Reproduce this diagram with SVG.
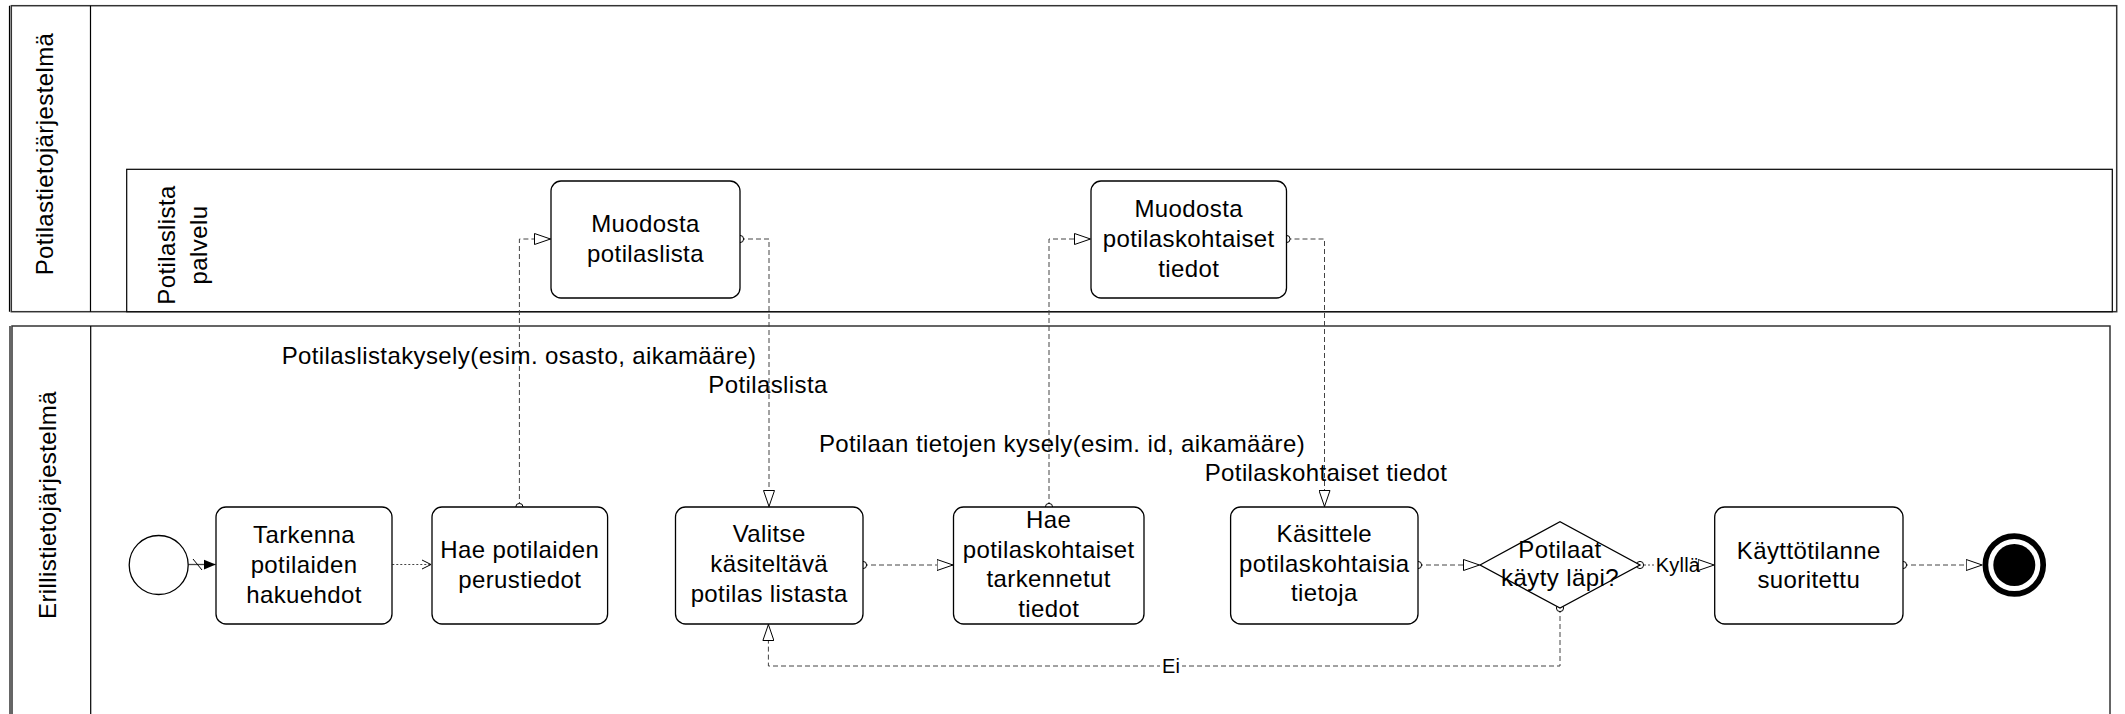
<svg xmlns="http://www.w3.org/2000/svg" width="2125" height="714" viewBox="0 0 2125 714">
<style>
  text { font-family: "Liberation Sans", Arial, sans-serif; font-size: 24px; letter-spacing: 0.4px; fill: #000; }
  .c { text-anchor: middle; }
  .small { font-size: 20px; letter-spacing: 0.2px; }
  .pool { fill: #fff; stroke: #333; stroke-width: 1.5; }
  .line { stroke: #000; stroke-width: 1.2; fill: none; }
  .task { fill: #fff; stroke: #000; stroke-width: 1.3; }
  .flow { fill: none; stroke: #444; stroke-width: 1; stroke-dasharray: 5 3; }
  .dotted { fill: none; stroke: #444; stroke-width: 1; stroke-dasharray: 2 2; }
  .solid { fill: none; stroke: #444; stroke-width: 1.3; }
  .origin { fill: #fff; stroke: #000; stroke-width: 1; }
</style>
<defs>
  <marker id="tri" viewBox="0 0 17 12" refX="17" refY="6" markerWidth="17" markerHeight="12" markerUnits="userSpaceOnUse" orient="auto">
    <path d="M0.5,0.5 L16.5,6 L0.5,11.5 Z" fill="#fff" stroke="#000" stroke-width="1"/>
  </marker>
  <marker id="filled" viewBox="0 0 12 12" refX="12" refY="6" markerWidth="12" markerHeight="12" markerUnits="userSpaceOnUse" orient="auto">
    <path d="M0,1 L12,6 L0,11 Z" fill="#000"/>
  </marker>
  <marker id="vee" viewBox="0 0 12 12" refX="11" refY="6" markerWidth="12" markerHeight="12" markerUnits="userSpaceOnUse" orient="auto">
    <path d="M2,1.5 L11,6 L2,10.5" fill="none" stroke="#000" stroke-width="1"/>
  </marker>
</defs>

<!-- Pools and lanes -->
<g id="pool-potilastietojarjestelma">
  <rect class="pool" x="11.3" y="5.7" width="2105.4" height="306"/>
  <line class="line" x1="9.5" y1="5.7" x2="9.5" y2="311.7"/>
  <line class="line" x1="90.5" y1="5.7" x2="90.5" y2="311.7"/>
  <text transform="translate(53,154) rotate(-90)" class="c">Potilastietojärjestelmä</text>
</g>
<g id="lane-potilaslista-palvelu">
  <rect x="126.7" y="169.3" width="1985.6" height="142.4" fill="#fff" stroke="#000" stroke-width="1.2"/>
  <text transform="translate(175,245) rotate(-90)" class="c">Potilaslista</text>
  <text transform="translate(207,245) rotate(-90)" class="c">palvelu</text>
</g>
<g id="pool-erillistietojarjestelma">
  <rect class="pool" x="12" y="326" width="2098" height="420"/>
  <line class="line" x1="10" y1="326" x2="10" y2="714"/>
  <line class="line" x1="90.7" y1="326" x2="90.7" y2="714"/>
  <text transform="translate(56,505) rotate(-90)" class="c">Erillistietojärjestelmä</text>
</g>

<!-- Connectors -->
<g id="connectors">
  <path class="solid" d="M188.3,564.5 H215.7" marker-end="url(#filled)"/>
  <line x1="193" y1="559" x2="202" y2="570" stroke="#000" stroke-width="1"/>
  <path class="dotted" d="M392.3,564.5 H431" marker-end="url(#vee)"/>
  <path class="flow" d="M519.4,507 V239 H551" marker-end="url(#tri)"/>
  <path class="flow" d="M740,239 H769 V507" marker-end="url(#tri)"/>
  <path class="flow" d="M863,565 H953.5" marker-end="url(#tri)"/>
  <path class="flow" d="M1049,507 V239 H1091" marker-end="url(#tri)"/>
  <path class="flow" d="M1286.5,239 H1324.5 V507" marker-end="url(#tri)"/>
  <path class="flow" d="M1418,565 H1480" marker-end="url(#tri)"/>
  <path class="dotted" d="M1640,565 H1656"/>
  <path class="flow" d="M1700,565 H1714.7" marker-end="url(#tri)"/>
  <path class="flow" d="M1903,565 H1982.7" marker-end="url(#tri)"/>
  <path class="flow" d="M1560,608 V666 H768.4 V624" marker-end="url(#tri)"/>
  <!-- source circles -->
  <circle class="origin" cx="519.4" cy="507" r="3.6"/>
  <circle class="origin" cx="740" cy="239" r="3.6"/>
  <circle class="origin" cx="863" cy="565" r="3.6"/>
  <circle class="origin" cx="1049" cy="507" r="3.6"/>
  <circle class="origin" cx="1286.5" cy="239" r="3.6"/>
  <circle class="origin" cx="1418" cy="565" r="3.6"/>
  <circle class="origin" cx="1640" cy="565" r="3.6"/>
  <circle class="origin" cx="1903" cy="565" r="3.6"/>
  <circle class="origin" cx="1560" cy="608" r="3.6"/>
  <!-- labels -->
  <text x="519" y="364" class="c">Potilaslistakysely(esim. osasto, aikamääre)</text>
  <text x="768" y="393" class="c">Potilaslista</text>
  <text x="1062" y="452" class="c">Potilaan tietojen kysely(esim. id, aikamääre)</text>
  <text x="1326" y="481" class="c">Potilaskohtaiset tiedot</text>
  <text x="1678" y="572" class="c small">Kyllä</text>
  <rect x="1160" y="656" width="22" height="20" fill="#fff"/>
  <text x="1171" y="673" class="c small">Ei</text>
</g>

<!-- Nodes -->
<g id="start">
  <circle cx="158.7" cy="565" r="29.5" fill="#fff" stroke="#000" stroke-width="1.3"/>
</g>
<g id="task-tarkenna">
  <rect class="task" x="216" y="507" width="176" height="117" rx="10"/>
  <text x="304" y="543" class="c">Tarkenna</text>
  <text x="304" y="573" class="c">potilaiden</text>
  <text x="304" y="603" class="c">hakuehdot</text>
</g>
<g id="task-hae-perustiedot">
  <rect class="task" x="432" y="507" width="175.6" height="117" rx="10"/>
  <text x="519.8" y="558" class="c">Hae potilaiden</text>
  <text x="519.8" y="588" class="c">perustiedot</text>
</g>
<g id="task-muodosta-potilaslista">
  <rect class="task" x="551" y="181" width="189" height="117" rx="10"/>
  <text x="645.5" y="232" class="c">Muodosta</text>
  <text x="645.5" y="262" class="c">potilaslista</text>
</g>
<g id="task-valitse">
  <rect class="task" x="675.5" y="507" width="187.5" height="117" rx="10"/>
  <text x="769.2" y="542" class="c">Valitse</text>
  <text x="769.2" y="572" class="c">käsiteltävä</text>
  <text x="769.2" y="602" class="c">potilas listasta</text>
</g>
<g id="task-hae-potilaskohtaiset">
  <rect class="task" x="953.5" y="507" width="190.5" height="117" rx="10"/>
  <text x="1048.7" y="528" class="c">Hae</text>
  <text x="1048.7" y="557.5" class="c">potilaskohtaiset</text>
  <text x="1048.7" y="587" class="c">tarkennetut</text>
  <text x="1048.7" y="616.5" class="c">tiedot</text>
</g>
<g id="task-muodosta-potilaskohtaiset">
  <rect class="task" x="1091" y="181" width="195.5" height="117" rx="10"/>
  <text x="1188.7" y="217" class="c">Muodosta</text>
  <text x="1188.7" y="247" class="c">potilaskohtaiset</text>
  <text x="1188.7" y="277" class="c">tiedot</text>
</g>
<g id="task-kasittele">
  <rect class="task" x="1230.6" y="507" width="187.4" height="117" rx="10"/>
  <text x="1324.3" y="542" class="c">Käsittele</text>
  <text x="1324.3" y="572" class="c">potilaskohtaisia</text>
  <text x="1324.3" y="601" class="c">tietoja</text>
</g>
<g id="gateway-potilaat">
  <path d="M1480,565 L1560,521.7 L1640,565 L1560,608 Z" fill="#fff" stroke="#000" stroke-width="1.3"/>
  <text x="1560" y="558" class="c">Potilaat</text>
  <text x="1560" y="586" class="c">käyty läpi?</text>
</g>
<g id="task-kayttotilanne">
  <rect class="task" x="1714.7" y="507" width="188.3" height="117" rx="10"/>
  <text x="1808.8" y="558.5" class="c">Käyttötilanne</text>
  <text x="1808.8" y="588" class="c">suoritettu</text>
</g>
<g id="end">
  <circle cx="2014.3" cy="565" r="28.9" fill="#fff" stroke="#000" stroke-width="5.7"/>
  <circle cx="2014.3" cy="565" r="21" fill="#000"/>
</g>
</svg>
